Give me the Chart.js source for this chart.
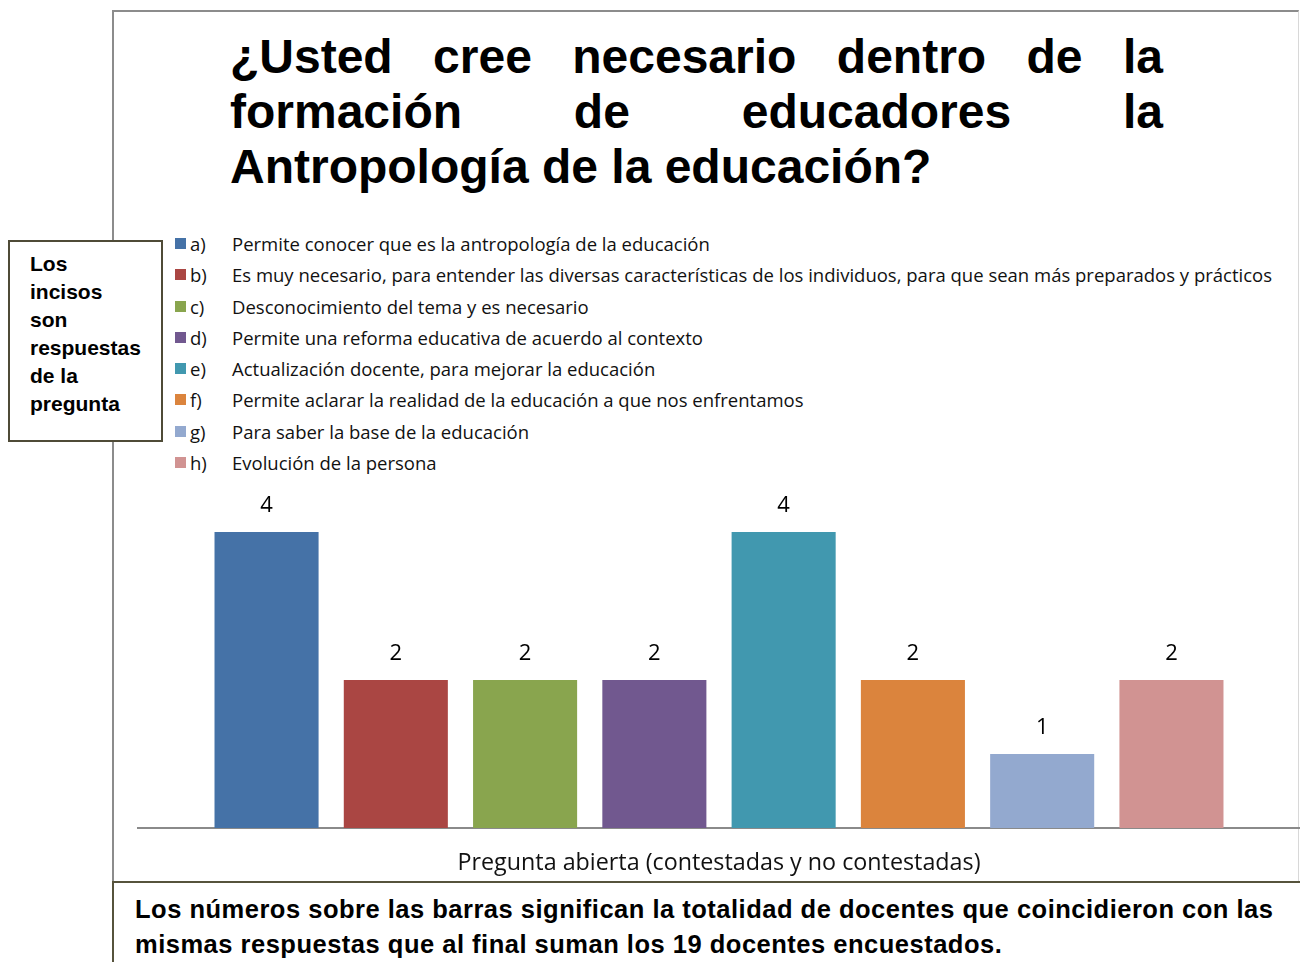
<!DOCTYPE html>
<html lang="es">
<head>
<meta charset="UTF-8">
<title>Antropología de la educación</title>
<script src="https://cdn.jsdelivr.net/npm/chart.js"></script>
<style>
  html, body { margin: 0; padding: 0; background: #fff; }
  body { width: 1300px; height: 962px; position: relative; overflow: hidden; }
  .frame { position: absolute; left: 112px; top: 10px; width: 1187px; height: 872px;
           border-left: 2px solid #8c8c8c; border-top: 2px solid #8c8c8c; border-right: 1px solid #d8d8d8; box-sizing: border-box; }
  .title { position: absolute; left: 230px; top: 29px; width: 933px;
           font: bold 48px Arial, "Liberation Sans", sans-serif; line-height: 55px; color: #000; }
  .title div { text-align: justify; text-align-last: justify; white-space: nowrap; }
  .title div.last { text-align-last: left; }
  .sidebox { position: absolute; left: 8px; top: 240px; width: 155px; height: 202px; box-sizing: border-box;
             border: 2px solid #4f4b37; background: #fff; padding: 8px 0 0 20px;
             font: bold 21px Arial, "Liberation Sans", sans-serif; line-height: 28px; }
  .legend { position: absolute; left: 175px; top: 228px; font-family: "Open Sans", sans-serif; font-size: 18.5px; color: #111; }
  .legend .row { position: relative; height: 31.3px; line-height: 31.3px; white-space: nowrap; }
  .legend .sw { position: absolute; left: 0; top: 10px; width: 11px; height: 11px; }
  .legend .ltr { position: absolute; left: 15px; }
  .legend .txt { position: absolute; left: 57px; }
  .note { position: absolute; left: 112px; top: 881px; width: 1188px; height: 81px; box-sizing: border-box;
          border-top: 2px solid #56533c; border-left: 2px solid #56533c; padding: 9px 0 0 21px;
          font: bold 25.5px Arial, "Liberation Sans", sans-serif; letter-spacing: 0.5px; line-height: 35px; color: #000; white-space: nowrap; }
  canvas { position: absolute; left: 0; top: 0; }
</style>
</head>
<body>
<div class="frame"></div>
<div class="title">
  <div>¿Usted cree necesario dentro de la</div>
  <div>formación de educadores la</div>
  <div class="last">Antropología de la educación?</div>
</div>
<div class="legend" id="legend"></div>
<div class="sidebox">Los<br>incisos<br>son<br>respuestas<br>de la<br>pregunta</div>
<div class="note">Los números sobre las barras significan la totalidad de docentes que coincidieron con las<br>mismas respuestas que al final suman los 19 docentes encuestados.</div>
<canvas id="chart" width="1300" height="962"></canvas>

<script>
const category = ['Pregunta abierta (contestadas y no contestadas)'];
const letters = ['a)', 'b)', 'c)', 'd)', 'e)', 'f)', 'g)', 'h)'];
const answers = [
  'Permite conocer que es la antropología de la educación',
  'Es muy necesario, para entender las diversas características de los individuos, para que sean más preparados y prácticos',
  'Desconocimiento del tema y es necesario',
  'Permite una reforma educativa de acuerdo al contexto',
  'Actualización docente, para mejorar la educación',
  'Permite aclarar la realidad de la educación a que nos enfrentamos',
  'Para saber la base de la educación',
  'Evolución de la persona'
];
const counts = [4, 2, 2, 2, 4, 2, 1, 2];

const palette = ['#4572A7', '#AA4643', '#89A54E', '#71588F', '#4198AF', '#DB843D', '#93A9CF', '#D19392'];

const datasets = counts.map((v, i) => ({
  label: letters[i] + ' ' + answers[i],
  data: [v],
  backgroundColor: palette[i],
  borderWidth: 0,
  barPercentage: 0.805,
  categoryPercentage: 0.89
}));

// values written above each bar
const barLabels = {
  id: 'barLabels',
  afterDatasetsDraw(chart) {
    const ctx = chart.ctx;
    ctx.save();
    ctx.font = '22px "Open Sans", sans-serif';
    ctx.fillStyle = '#000';
    ctx.textAlign = 'center';
    ctx.textBaseline = 'middle';
    chart.data.datasets.forEach((ds, i) => {
      chart.getDatasetMeta(i).data.forEach((bar, j) => {
        ctx.fillText(String(ds.data[j]), bar.x, bar.y - 26);
      });
    });
    ctx.restore();
  }
};

const chart = new Chart(document.getElementById('chart'), {
  type: 'bar',
  data: { labels: category, datasets: datasets },
  options: {
    responsive: false,
    animation: false,
    layout: { padding: { left: 138, right: 0, top: 458, bottom: 85 } },
    plugins: { legend: { display: false }, tooltip: { enabled: false } },
    scales: {
      x: {
        ticks: { display: false },
        grid: { display: true, drawOnChartArea: false, drawTicks: false },
        border: { display: true, color: '#8a8a8a', width: 2 },
        title: {
          display: true,
          text: category[0],
          font: { family: '"Open Sans", sans-serif', size: 23.3 },
          color: '#111',
          padding: { top: 21, bottom: 0 }
        }
      },
      y: {
        display: false,
        min: 0,
        max: 5
      }
    }
  },
  plugins: [barLabels]
});

// html legend built from the chart datasets
const legendEl = document.getElementById('legend');
chart.data.datasets.forEach((ds, i) => {
  const row = document.createElement('div');
  row.className = 'row';
  row.innerHTML = '<span class="sw" style="background:' + ds.backgroundColor + '"></span>' +
    '<span class="ltr">' + letters[i] + '</span><span class="txt">' + answers[i] + '</span>';
  legendEl.appendChild(row);
});
</script>
</body>
</html>
